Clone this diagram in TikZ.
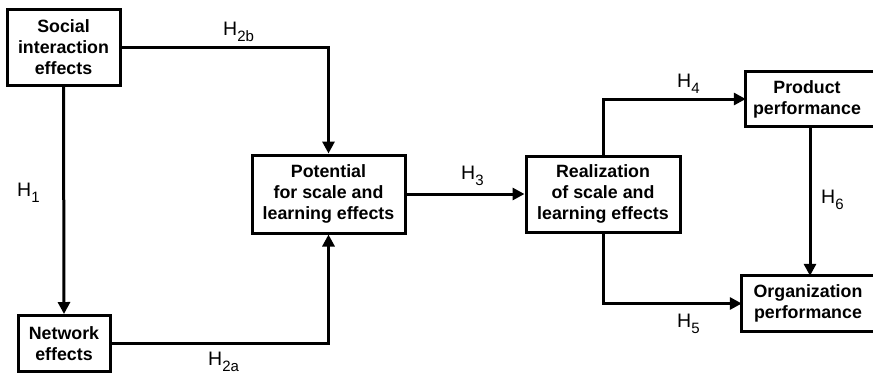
\documentclass[tikz,border=0pt]{standalone}
\usepackage{fontspec}
\setmainfont{Liberation Sans}
\usetikzlibrary{arrows.meta}
% hypothesis label: H with a lowered index
\newcommand{\hyp}[1]{H\raisebox{-6.5pt}{\fontsize{15}{15}\selectfont #1}}
\begin{document}
\begin{tikzpicture}[x=1pt,y=-1pt,
  boxnode/.style={draw, line width=3pt, align=center, inner sep=0pt,
    font=\bfseries\fontsize{17.8}{21}\selectfont},
  plainnode/.style={align=center, inner sep=0pt,
    font=\bfseries\fontsize{17.8}{21}\selectfont},
  link/.style={line width=3pt, -{Triangle[length=12pt,width=12pt]}},
  hlabel/.style={font=\fontsize{19.5}{20}\selectfont, inner sep=0pt, anchor=base west}]
\useasboundingbox (0,0) rectangle (873,373);
\clip (0,0) rectangle (873,373);

% boxes
\node[boxnode, minimum width=113pt, minimum height=76pt] (soc) at (63.5,47) {Social\\interaction\\effects};
\node[boxnode, minimum width=92pt, minimum height=56pt] (net) at (64,343.5) {Network\\effects};
\node[boxnode, minimum width=153pt, minimum height=78pt] (pot) at (328.5,194) {Potential\\for scale and\\learning effects};
\node[boxnode, minimum width=154pt, minimum height=76pt] (real) at (603,194) {Realization\\of scale and\\learning effects};
\node[plainnode, minimum width=122pt, minimum height=54pt] (prod) at (807,99) {Product\\performance};
\node[plainnode, minimum width=132pt, minimum height=55pt] (org) at (808,303.5) {Organization\\performance};
% frames of the two boxes that run past the right edge
\draw[line width=3pt] (prod.north west) rectangle ([xshift=20pt]prod.south east);
\draw[line width=3pt] (org.north west) rectangle ([xshift=20pt]org.south east);

% connectors
\draw[link] (soc.east) -| (pot.north);
\draw[link] (soc.south) -- (net.north);
\draw[link] (net.east) -| (pot.south);
\draw[link] (pot.east) -- (real.west);
\draw[link] (real.north) |- (prod.west);
\draw[link] (real.south) |- (org.west);
\draw[link] ([xshift=3pt]prod.south) -- ([xshift=3pt]prod.south |- org.north);

% labels
\node[hlabel] (h2b) at (223,35) {\hyp{2b}};
\node[hlabel] (h1) at (17,196) {\hyp{1}};
\node[hlabel] (h2a) at (208,365) {\hyp{2a}};
\node[hlabel] (h3) at (461,179) {\hyp{3}};
\node[hlabel] (h4) at (677,87) {\hyp{4}};
\node[hlabel] (h5) at (677,327) {\hyp{5}};
\node[hlabel] (h6) at (821,203) {\hyp{6}};
\end{tikzpicture}
\end{document}
